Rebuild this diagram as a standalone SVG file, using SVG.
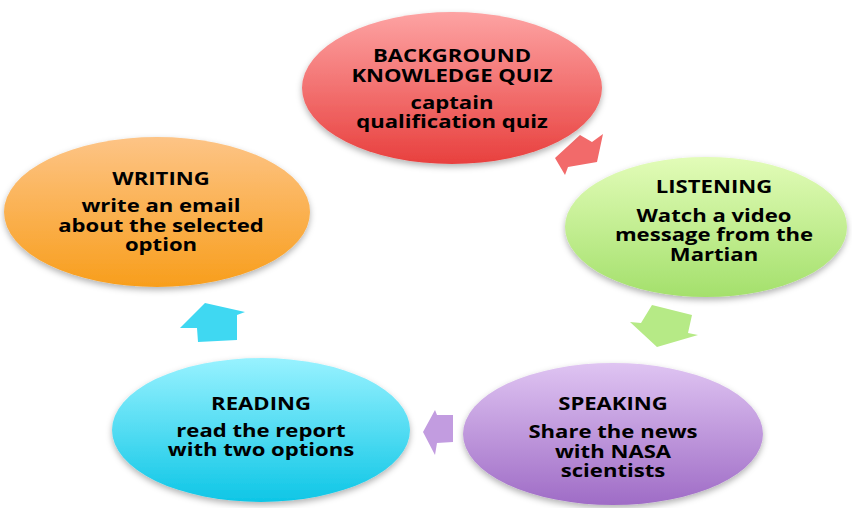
<svg xmlns="http://www.w3.org/2000/svg" width="852" height="508" viewBox="0 0 852 508">
<style>
.t{font-family:"Open Sans","DejaVu Sans",sans-serif;font-weight:bold;font-size:17px;fill:#000;text-anchor:middle}
.node ellipse{filter:url(#sh)}
</style>
<defs>
<filter id="sh" x="-10%" y="-10%" width="120%" height="130%">
<feDropShadow dx="0" dy="3" stdDeviation="3" flood-color="#000" flood-opacity="0.3"/>
</filter>
<linearGradient id="gR" x1="0" y1="0" x2="0" y2="1"><stop offset="0" stop-color="#fda3a3"/><stop offset="1" stop-color="#e8403e"/></linearGradient>
<linearGradient id="gG" x1="0" y1="0" x2="0" y2="1"><stop offset="0" stop-color="#e2fcb8"/><stop offset="1" stop-color="#a4e06c"/></linearGradient>
<linearGradient id="gP" x1="0" y1="0" x2="0" y2="1"><stop offset="0" stop-color="#dfc4f2"/><stop offset="1" stop-color="#9f6cc6"/></linearGradient>
<linearGradient id="gC" x1="0" y1="0" x2="0" y2="1"><stop offset="0" stop-color="#98f2ff"/><stop offset="1" stop-color="#0ec6e6"/></linearGradient>
<linearGradient id="gO" x1="0" y1="0" x2="0" y2="1"><stop offset="0" stop-color="#fdc486"/><stop offset="1" stop-color="#f89e1c"/></linearGradient>
</defs>
<rect width="852" height="508" fill="#fff"/>
<g id="connectors">
<polygon points="555,158 580,135 592,142 603,134 597,162 568,167 565,175" fill="#f26a6a"/>
<polygon points="652,305 692,315 688,333 698,335 657,347 630,322 641,323" fill="#b6ea86"/>
<polygon points="423,432 435,410 437,415 453,415 453,442 437,443 435,455" fill="#c29ce0"/>
<polygon points="180,328 205,303 245,312 237,315 237,340 198,342 197,328" fill="#3fd8f2"/>
</g>
<g id="node-quiz" class="node">
<ellipse cx="452" cy="88" rx="150" ry="76" fill="url(#gR)"/>
<g transform="translate(452,0) scale(1.3,1)">
<text class="t" x="0" y="62">BACKGROUND</text>
<text class="t" x="0" y="82">KNOWLEDGE QUIZ</text>
<text class="t" x="0" y="109">captain</text>
<text class="t" x="0" y="128">qualification quiz</text>
</g>
</g>
<g id="node-listening" class="node">
<ellipse cx="706" cy="227" rx="141" ry="70" fill="url(#gG)"/>
<g transform="translate(714,0) scale(1.3,1)">
<text class="t" x="0" y="193">LISTENING</text>
<text class="t" x="0" y="222">Watch a video</text>
<text class="t" x="0" y="241">message from the</text>
<text class="t" x="0" y="261">Martian</text>
</g>
</g>
<g id="node-speaking" class="node">
<ellipse cx="613" cy="434" rx="150" ry="71" fill="url(#gP)"/>
<g transform="translate(613,0) scale(1.3,1)">
<text class="t" x="0" y="410">SPEAKING</text>
<text class="t" x="0" y="438">Share the news</text>
<text class="t" x="0" y="458">with NASA</text>
<text class="t" x="0" y="477">scientists</text>
</g>
</g>
<g id="node-reading" class="node">
<ellipse cx="261" cy="430" rx="149" ry="72" fill="url(#gC)"/>
<g transform="translate(261,0) scale(1.3,1)">
<text class="t" x="0" y="410">READING</text>
<text class="t" x="0" y="437">read the report</text>
<text class="t" x="0" y="456">with two options</text>
</g>
</g>
<g id="node-writing" class="node">
<ellipse cx="157" cy="212" rx="153" ry="75" fill="url(#gO)"/>
<g transform="translate(161,0) scale(1.3,1)">
<text class="t" x="0" y="185">WRITING</text>
<text class="t" x="0" y="212">write an email</text>
<text class="t" x="0" y="232">about the selected</text>
<text class="t" x="0" y="251">option</text>
</g>
</g>
</svg>
